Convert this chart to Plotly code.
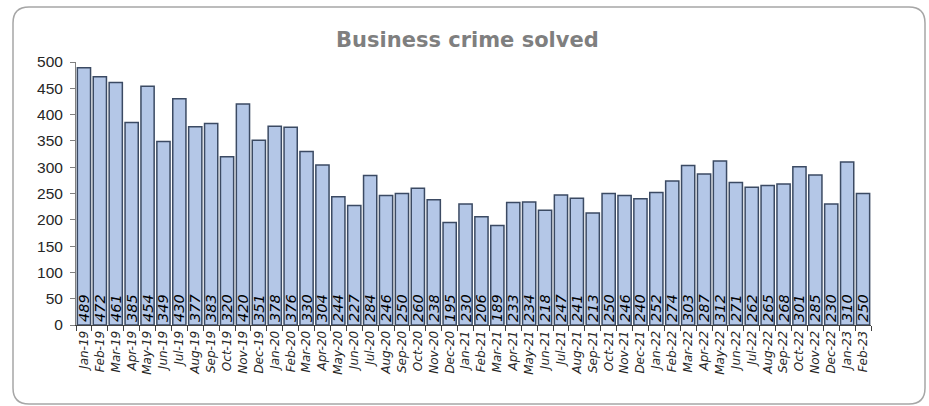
import plotly.graph_objects as go

months = ["Jan-19","Feb-19","Mar-19","Apr-19","May-19","Jun-19","Jul-19","Aug-19","Sep-19","Oct-19","Nov-19","Dec-19",
          "Jan-20","Feb-20","Mar-20","Apr-20","May-20","Jun-20","Jul-20","Aug-20","Sep-20","Oct-20","Nov-20","Dec-20",
          "Jan-21","Feb-21","Mar-21","Apr-21","May-21","Jun-21","Jul-21","Aug-21","Sep-21","Oct-21","Nov-21","Dec-21",
          "Jan-22","Feb-22","Mar-22","Apr-22","May-22","Jun-22","Jul-22","Aug-22","Sep-22","Oct-22","Nov-22","Dec-22",
          "Jan-23","Feb-23"]
solved = [489,472,461,385,454,349,430,377,383,320,420,351,
          378,376,330,304,244,227,284,246,250,260,238,195,
          230,206,189,233,234,218,247,241,213,250,246,240,
          252,274,303,287,312,271,262,265,268,301,285,230,
          310,250]
y_ticks = [0,50,100,150,200,250,300,350,400,450,500]

W, H = 929, 406
L, R, T, B = 76, 58, 62, 81
pw, ph = W - L - R, H - T - B

def px(x):
    return (x - L) / pw

def py(y):
    return (H - B - y) / ph

fig = go.Figure(go.Bar(
    x=months, y=solved,
    marker=dict(color="#b4c7e7", line=dict(color="#3b4a63", width=1.5)),
    text=[str(v) for v in solved],
    textposition="inside", insidetextanchor="start", textangle=-90,
    constraintext="none",
    textfont=dict(family="DejaVu Sans", size=14.5, color="#000000", style="italic"),
    hoverinfo="x+y",
))

# rounded frame
x0, y0, x1, y1, r = 13, 7, 925, 404, 16
path = (f"M {px(x0+r)},{py(y0)} L {px(x1-r)},{py(y0)} Q {px(x1)},{py(y0)} {px(x1)},{py(y0+r)} "
        f"L {px(x1)},{py(y1-r)} Q {px(x1)},{py(y1)} {px(x1-r)},{py(y1)} "
        f"L {px(x0+r)},{py(y1)} Q {px(x0)},{py(y1)} {px(x0)},{py(y1-r)} "
        f"L {px(x0)},{py(y0+r)} Q {px(x0)},{py(y0)} {px(x0+r)},{py(y0)} Z")

fig.update_layout(
    width=W, height=H,
    margin=dict(l=L, r=R, t=T, b=B),
    paper_bgcolor="white", plot_bgcolor="white",
    bargap=0.17,
    showlegend=False,
    title=dict(text="<b>Business crime solved</b>", x=px(476), xanchor="center",
               y=1 - 40 / H, yanchor="middle",
               font=dict(family="DejaVu Sans", size=21, color="#7f7f7f")),
    shapes=[dict(type="path", path=path, xref="paper", yref="paper",
                 line=dict(color="#a6a6a6", width=1.5), fillcolor="rgba(0,0,0,0)", layer="below")],
    xaxis=dict(type="category", tickangle=-90, ticks="outside", ticklen=5, tickson="boundaries",
               tickcolor="#404040", showline=True, linecolor="#404040", linewidth=1,
               tickfont=dict(family="DejaVu Sans", size=12, color="#262626", style="italic"),
               showgrid=False, range=[-0.5, len(months) - 0.5]),
    yaxis=dict(range=[0, 500], tickvals=y_ticks, ticks="outside", ticklen=5,
               tickcolor="#808080", showline=True, linecolor="#808080", linewidth=1,
               tickfont=dict(family="Liberation Sans", size=15.5, color="#262626"),
               showgrid=False, zeroline=False, ticklabelstandoff=4),
)

fig.write_html("out.html")
